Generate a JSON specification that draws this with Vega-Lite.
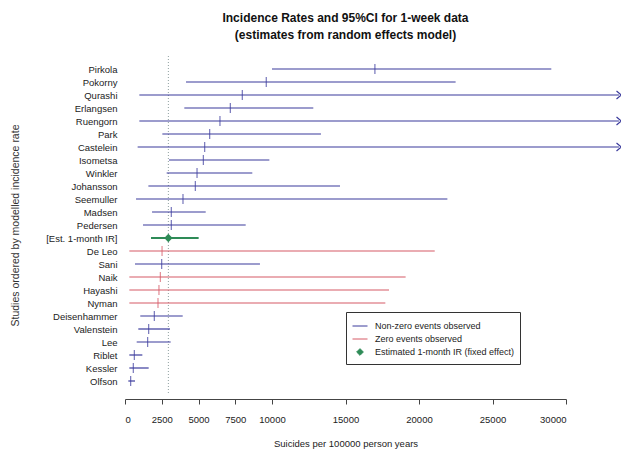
{
  "$schema": "https://vega.github.io/schema/vega-lite/v6.json",
  "autosize": {"type": "none"},
  "width": 441,
  "height": 338,
  "padding": {"left": 125, "top": 56, "right": 55, "bottom": 58},
  "background": "white",
  "config": {
    "font": "Liberation Sans Narrow, Liberation Sans, Arial, sans-serif",
    "view": {"stroke": null}
  },
  "title": {
    "text": ["Incidence Rates and 95%CI for 1-week data", "(estimates from random effects model)"],
    "fontSize": 12,
    "fontWeight": "bold",
    "lineHeight": 17,
    "color": "#111",
    "anchor": "middle",
    "frame": "group",
    "offset": 14
  },
  "data": {
    "values": [
      {"study": "Pirkola", "lo": 10000, "est": 17000, "hi": 29000, "type": "Non-zero events observed", "arrow": false},
      {"study": "Pokorny", "lo": 4150, "est": 9610, "hi": 22490, "type": "Non-zero events observed", "arrow": false},
      {"study": "Qurashi", "lo": 975, "est": 7980, "hi": 33600, "type": "Non-zero events observed", "arrow": true},
      {"study": "Erlangsen", "lo": 4035, "est": 7165, "hi": 12810, "type": "Non-zero events observed", "arrow": false},
      {"study": "Ruengorn", "lo": 975, "est": 6460, "hi": 33600, "type": "Non-zero events observed", "arrow": true},
      {"study": "Park", "lo": 2540, "est": 5760, "hi": 13330, "type": "Non-zero events observed", "arrow": false},
      {"study": "Castelein", "lo": 860, "est": 5420, "hi": 33600, "type": "Non-zero events observed", "arrow": true},
      {"study": "Isometsa", "lo": 2990, "est": 5330, "hi": 9820, "type": "Non-zero events observed", "arrow": false},
      {"study": "Winkler", "lo": 2835, "est": 4900, "hi": 8660, "type": "Non-zero events observed", "arrow": false},
      {"study": "Johansson", "lo": 1590, "est": 4785, "hi": 14625, "type": "Non-zero events observed", "arrow": false},
      {"study": "Seemuller", "lo": 750, "est": 3945, "hi": 21930, "type": "Non-zero events observed", "arrow": false},
      {"study": "Madsen", "lo": 1840, "est": 3150, "hi": 5490, "type": "Non-zero events observed", "arrow": false},
      {"study": "Pedersen", "lo": 1225, "est": 3150, "hi": 8210, "type": "Non-zero events observed", "arrow": false},
      {"study": "[Est. 1-month IR]", "lo": 1770, "est": 2950, "hi": 5010, "type": "Estimated 1-month IR (fixed effect)", "arrow": false},
      {"study": "De Leo", "lo": 295, "est": 2520, "hi": 21070, "type": "Zero events observed", "arrow": false},
      {"study": "Sani", "lo": 680, "est": 2495, "hi": 9180, "type": "Non-zero events observed", "arrow": false},
      {"study": "Naik", "lo": 295, "est": 2405, "hi": 19090, "type": "Zero events observed", "arrow": false},
      {"study": "Hayashi", "lo": 295, "est": 2310, "hi": 17960, "type": "Zero events observed", "arrow": false},
      {"study": "Nyman", "lo": 295, "est": 2245, "hi": 17710, "type": "Zero events observed", "arrow": false},
      {"study": "Deisenhammer", "lo": 1040, "est": 1995, "hi": 3925, "type": "Non-zero events observed", "arrow": false},
      {"study": "Valenstein", "lo": 905, "est": 1610, "hi": 3060, "type": "Non-zero events observed", "arrow": false},
      {"study": "Lee", "lo": 795, "est": 1540, "hi": 3105, "type": "Non-zero events observed", "arrow": false},
      {"study": "Riblet", "lo": 295, "est": 635, "hi": 1180, "type": "Non-zero events observed", "arrow": false},
      {"study": "Kessler", "lo": 295, "est": 565, "hi": 1610, "type": "Non-zero events observed", "arrow": false},
      {"study": "Olfson", "lo": 225, "est": 385, "hi": 680, "type": "Non-zero events observed", "arrow": false}
    ]
  },
  "layer": [
    {
      "transform": [{"filter": "datum.type === 'Estimated 1-month IR (fixed effect)'"}],
      "mark": {"type": "rule", "color": "#8fa0a0", "strokeDash": [1, 2], "strokeWidth": 1},
      "encoding": {
        "x": {"field": "est", "type": "quantitative"}
      }
    },
    {
      "mark": {"type": "rule"},
      "encoding": {
        "y": {"field": "study", "type": "nominal", "sort": null,
          "scale": {"type": "point", "padding": 1.7},
          "axis": {"domain": false, "ticks": false, "labelPadding": 8, "labelFontSize": 9.5, "labelColor": "#222",
            "title": "Studies ordered by modelled incidence rate", "titleFontSize": 10.5, "titleFontWeight": "normal",
            "titleColor": "#333", "titlePadding": 25}},
        "x": {"field": "lo", "type": "quantitative",
          "scale": {"domain": [0, 30000], "nice": false, "zero": false},
          "axis": {"values": [0, 2500, 5000, 7500, 10000, 15000, 20000, 25000, 30000], "grid": false,
            "format": "d", "offset": 5, "domainColor": "#444", "tickColor": "#444", "tickSize": 5,
            "labelFontSize": 9.5, "labelColor": "#222", "labelPadding": 10,
            "title": "Suicides per 100000 person years", "titleFontSize": 9.5, "titleFontWeight": "normal",
            "titleColor": "#222", "titlePadding": 15}},
        "x2": {"field": "hi"},
        "strokeWidth": {"condition": {"test": "datum.type === 'Estimated 1-month IR (fixed effect)'", "value": 2}, "value": 1.2},
        "color": {"field": "type", "type": "nominal",
          "scale": {"domain": ["Non-zero events observed", "Zero events observed", "Estimated 1-month IR (fixed effect)"],
            "range": ["#3a3a9c", "#d65a66", "#2e8b57"]},
          "legend": {"orient": "none", "legendX": 221, "legendY": 256, "title": null, "symbolType": "stroke",
            "strokeColor": "#333", "padding": 6, "rowPadding": 0, "labelFontSize": 9, "labelColor": "#222",
            "labelOffset": 7, "symbolSize": 144, "symbolStrokeWidth": 1,
            "encode": {"symbols": {"update": {
              "shape": {"signal": "datum.value === 'Estimated 1-month IR (fixed effect)' ? 'diamond' : 'stroke'"},
              "fill": {"signal": "datum.value === 'Estimated 1-month IR (fixed effect)' ? '#2e8b57' : 'transparent'"},
              "size": {"signal": "datum.value === 'Estimated 1-month IR (fixed effect)' ? 45 : 225"}
            }}}}}
      }
    },
    {
      "transform": [{"filter": "datum.type !== 'Estimated 1-month IR (fixed effect)'"}],
      "mark": {"type": "tick", "size": 10, "thickness": 1.2},
      "encoding": {
        "y": {"field": "study", "type": "nominal", "sort": null},
        "x": {"field": "est", "type": "quantitative"},
        "color": {"field": "type", "type": "nominal"}
      }
    },
    {
      "transform": [{"filter": "datum.type === 'Estimated 1-month IR (fixed effect)'"}],
      "mark": {"type": "point", "shape": "diamond", "filled": true, "size": 70, "opacity": 1},
      "encoding": {
        "y": {"field": "study", "type": "nominal", "sort": null},
        "x": {"field": "est", "type": "quantitative"},
        "color": {"field": "type", "type": "nominal"}
      }
    },
    {
      "transform": [{"filter": "datum.arrow"}],
      "mark": {"type": "point", "shape": "M-0.6,-1L0.6,0L-0.6,1", "filled": false, "size": 64, "strokeWidth": 1.2, "opacity": 1},
      "encoding": {
        "y": {"field": "study", "type": "nominal", "sort": null},
        "x": {"field": "hi", "type": "quantitative"},
        "color": {"field": "type", "type": "nominal"}
      }
    }
  ]
}
